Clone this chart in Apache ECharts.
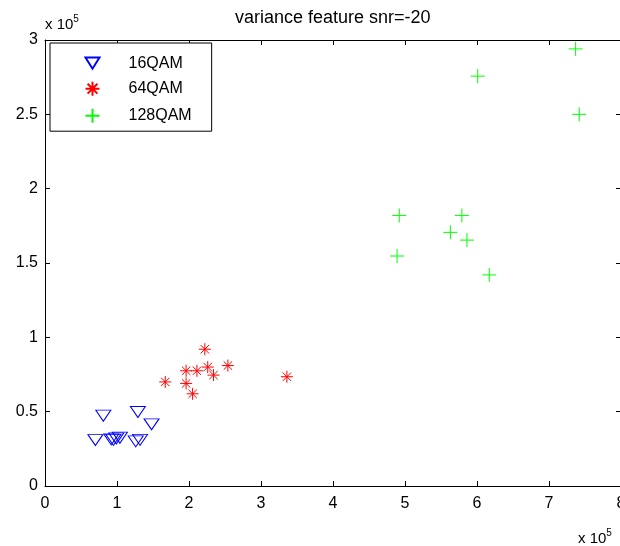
<!DOCTYPE html>
<html>
<head>
<meta charset="utf-8">
<script src="https://cdn.jsdelivr.net/npm/echarts@6/dist/echarts.min.js"></script>
<style>
  html, body { margin: 0; padding: 0; background: #fff; }
  #chart { width: 620px; height: 546px; }
</style>
</head>
<body>
<div id="chart"></div>
<script>
// values in units of 10^5
const qam16X = [0.81, 1.29, 1.48, 0.70, 0.92, 0.95, 0.99, 1.04, 1.26, 1.32];
const qam16Y = [0.473, 0.498, 0.415, 0.309, 0.314, 0.31, 0.32, 0.325, 0.30, 0.31];

const qam64X = [2.22, 1.96, 2.11, 2.26, 2.34, 2.54, 1.67, 1.96, 2.05, 3.36];
const qam64Y = [0.92, 0.775, 0.775, 0.80, 0.746, 0.81, 0.70, 0.69, 0.62, 0.735];

const qam128X = [4.92, 5.79, 5.63, 5.86, 4.89, 6.17, 6.01, 7.37, 7.42];
const qam128Y = [1.82, 1.82, 1.706, 1.654, 1.547, 1.42, 2.757, 2.94, 2.50];

const seriesNames = ['16QAM', '64QAM', '128QAM'];
const xTicks = [0, 1, 2, 3, 4, 5, 6, 7, 8];
const yTicks = ['0', '0.5', '1', '1.5', '2', '2.5', '3'];

const FONT = 'Liberation Sans, Arial, Helvetica, sans-serif';
const triPath = 'path://M0,0 L10,0 L5,8 Z';
const starPath = 'path://M0,5 L10,5 M5,0 L5,10 M1.5,1.5 L8.5,8.5 M1.5,8.5 L8.5,1.5';
const plusPath = 'path://M0,5 L10,5 M5,0 L5,10';

function pairs(xs, ys) {
    return xs.map((x, i) => [x, ys[i]]);
}

const axisCommon = {
    axisLine: { show: true, onZero: false, lineStyle: { color: '#000', width: 1 } },
    axisTick: { show: true, inside: true, length: 5, lineStyle: { color: '#000' } },
    splitLine: { show: false }
};

const expRich = {
    b: { fontFamily: FONT, fontSize: 15, fill: '#000', verticalAlign: 'bottom', lineHeight: 18 },
    s: { fontFamily: FONT, fontSize: 10, fill: '#000', verticalAlign: 'top', lineHeight: 18, padding: [0, 0, 10, 0] }
};

const myChart = echarts.init(document.getElementById('chart'));
myChart.setOption({
    animation: false,
    backgroundColor: '#fff',
    title: {
        text: 'variance feature snr=-20',
        left: 230,
        top: 4,
        textStyle: { fontFamily: FONT, fontSize: 18, fontWeight: 'normal', color: '#000' }
    },
    grid: { left: 45, right: -1, top: 40, bottom: 60, outerBoundsMode: 'none' },
    legend: {
        orient: 'vertical',
        left: 50,
        top: 43,
        padding: [12, 20, 6, 33],
        itemWidth: 14,
        itemHeight: 14,
        itemGap: 8,
        borderColor: '#000',
        borderWidth: 1,
        backgroundColor: '#fff',
        textStyle: { fontFamily: FONT, fontSize: 16, color: '#000', padding: [0, 0, 0, 24] },
        data: [
            { name: seriesNames[0], icon: triPath },
            { name: seriesNames[1], icon: starPath },
            { name: seriesNames[2], icon: plusPath }
        ]
    },
    xAxis: [
        Object.assign({
            type: 'value', position: 'bottom', min: 0, max: 8, interval: 1,
            axisLabel: {
                color: '#000', fontFamily: FONT, fontSize: 16, margin: 10,
                formatter: v => xTicks.includes(v) ? String(v) : ''
            }
        }, axisCommon),
        Object.assign({
            type: 'value', position: 'top', min: 0, max: 8, interval: 1,
            axisLabel: { show: false }
        }, axisCommon)
    ],
    yAxis: [
        Object.assign({
            type: 'value', position: 'left', min: 0, max: 3, interval: 0.5,
            axisLabel: {
                color: '#000', fontFamily: FONT, fontSize: 16, margin: 7,
                formatter: v => yTicks[Math.round(v * 2)]
            }
        }, axisCommon),
        Object.assign({
            type: 'value', position: 'right', min: 0, max: 3, interval: 0.5,
            axisLabel: { show: false }
        }, axisCommon)
    ],
    graphic: [
        {
            type: 'text', left: 45, top: 14,
            style: { text: '{b|x 10}{s|5}', rich: expRich }
        },
        {
            type: 'text', left: 578, top: 528,
            style: { text: '{b|x 10}{s|5}', rich: expRich }
        }
    ],
    series: [
        {
            name: seriesNames[0],
            type: 'scatter',
            symbol: triPath,
            symbolSize: [15, 11],
            itemStyle: { color: 'none', borderColor: '#0000ff', borderWidth: 1, opacity: 1 },
            data: pairs(qam16X, qam16Y)
        },
        {
            name: seriesNames[1],
            type: 'scatter',
            symbol: starPath,
            symbolSize: 12,
            itemStyle: { color: 'none', borderColor: '#ff0000', borderWidth: 1, opacity: 1 },
            data: pairs(qam64X, qam64Y)
        },
        {
            name: seriesNames[2],
            type: 'scatter',
            symbol: plusPath,
            symbolSize: 14,
            itemStyle: { color: 'none', borderColor: '#00ff00', borderWidth: 1, opacity: 1 },
            data: pairs(qam128X, qam128Y)
        }
    ]
});
</script>
</body>
</html>
